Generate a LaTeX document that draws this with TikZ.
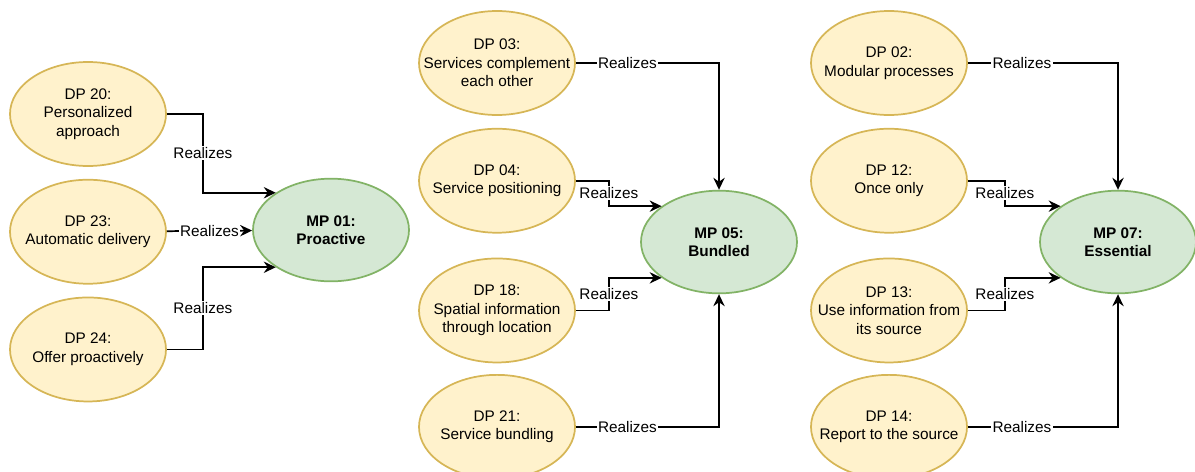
\documentclass[tikz,border=0pt]{standalone}
\usepackage{fontspec}
\setmainfont{Liberation Sans}
\usetikzlibrary{positioning}
\usetikzlibrary{shapes.geometric}
\usetikzlibrary{arrows.meta}
\definecolor{dpFill}{HTML}{FFF2CC}
\definecolor{dpLine}{HTML}{D6B656}
\definecolor{mpFill}{HTML}{D5E8D4}
\definecolor{mpLine}{HTML}{82B366}
\newcommand{\diagFont}{\fontsize{11.5}{13.9}\selectfont}
\tikzstyle{designPrinciple} = [ellipse, draw=dpLine, fill=dpFill, line width=1.3pt, minimum width=117pt, minimum height=78pt, inner xsep=-18pt, inner ysep=0pt, align=center, font=\diagFont]
\tikzstyle{mainPrinciple} = [ellipse, draw=mpLine, fill=mpFill, line width=1.3pt, minimum width=117pt, minimum height=77pt, inner sep=0pt, align=center, font=\diagFont\bfseries]
\tikzstyle{realizes} = [-{Stealth[length=9pt, width=8.5pt, inset=3pt]}, line width=1.3pt]
\tikzstyle{relLabel} = [fill=white, inner sep=1pt, font=\diagFont]

\begin{document}
\begin{tikzpicture}[x=0.75pt, y=-0.75pt]
    \useasboundingbox (0,0) rectangle (1195,471);
    % MP 01
    \node (dp20) at (88,114) [designPrinciple] {DP 20:\\Personalized\\approach};
    \node (dp23) [below=9pt of dp20, designPrinciple] {DP 23:\\Automatic delivery};
    \node (dp24) [below=9pt of dp23, designPrinciple] {DP 24:\\Offer proactively};
    \node (mp01) at (331,230) [mainPrinciple] {MP 01:\\Proactive};
    \draw [realizes] (dp20.east) -- ++(36,0) |- node[pos=0.25, relLabel] {Realizes} (mp01.146);
    \draw [realizes] (dp23) -- node[relLabel] {Realizes} (mp01);
    \draw [realizes] (dp24.east) -- ++(36,0) |- node[pos=0.25, relLabel] {Realizes} (mp01.214);
    % MP 05
    \node (dp03) at (497,63) [designPrinciple] {DP 03:\\Services complement\\each other};
    \node (dp04) [below=9pt of dp03, designPrinciple] {DP 04:\\Service positioning};
    \node (dp18) [below=18pt of dp04, designPrinciple] {DP 18:\\Spatial information\\through location};
    \node (dp21) [below=8pt of dp18, designPrinciple] {DP 21:\\Service bundling};
    \node (mp05) at (719,242) [mainPrinciple] {MP 05:\\Bundled};
    \draw [realizes] (dp03.east) -| node[pos=0.18, relLabel] {Realizes} (mp05.north);
    \draw [realizes] (dp04.east) -- ++(33,0) |- node[pos=0.25, relLabel] {Realizes} (mp05.148);
    \draw [realizes] (dp18.east) -- ++(33,0) |- node[pos=0.25, relLabel] {Realizes} (mp05.212);
    \draw [realizes] (dp21.east) -| node[pos=0.18, relLabel] {Realizes} (mp05.south);
    % MP 07
    \node (dp02) at (889,63) [designPrinciple] {DP 02:\\Modular processes};
    \node (dp12) [below=9pt of dp02, designPrinciple] {DP 12:\\Once only};
    \node (dp13) [below=18pt of dp12, designPrinciple] {DP 13:\\Use information from\\its source};
    \node (dp14) [below=8pt of dp13, designPrinciple] {DP 14:\\Report to the source};
    \node (mp07) at (1118,242) [mainPrinciple] {MP 07:\\Essential};
    \draw [realizes] (dp02.east) -| node[pos=0.18, relLabel] {Realizes} (mp07.north);
    \draw [realizes] (dp12.east) -- ++(37,0) |- node[pos=0.25, relLabel] {Realizes} (mp07.148);
    \draw [realizes] (dp13.east) -- ++(37,0) |- node[pos=0.25, relLabel] {Realizes} (mp07.212);
    \draw [realizes] (dp14.east) -| node[pos=0.18, relLabel] {Realizes} (mp07.south);
\end{tikzpicture}
\end{document}
